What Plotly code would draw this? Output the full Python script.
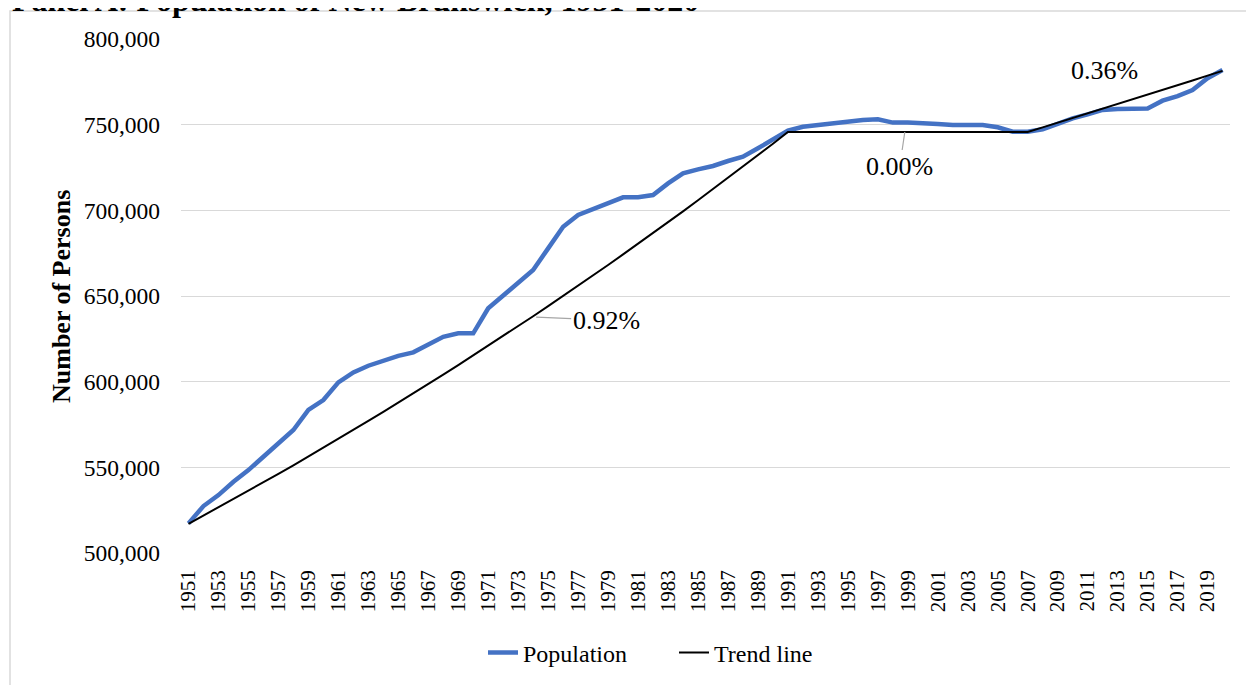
import plotly.graph_objects as go

years = list(range(1951, 2021))

population = [
    517300, 527400, 533800, 541600, 548400, 556200, 563400, 571800, 583500, 589300,
    599600, 605400, 609300, 612200, 615100, 617100, 621400, 626200, 628200, 628200,
    642800, 650000, 657400, 665200, 677800, 690400, 697300, 700800, 704500, 707600,
    707600, 708900, 715700, 721600, 723900, 725900, 728800, 731300, 736200, 741000,
    746500, 748800, 749800, 750800, 751600, 752700, 753100, 751200, 751200, 751000,
    750400, 749800, 749800, 749800, 748500, 745900, 745900, 747300, 750400, 753700,
    756000, 758600, 759100, 759100, 759500, 764000, 766700, 770200, 777100, 781900,
]

trend = [
    517000, 521800, 526600, 531400, 536300, 541200, 546200, 551200, 556300, 561400,
    566600, 571800, 577100, 582400, 587700, 593100, 598600, 604100, 609700, 615300,
    620900, 626600, 632400, 638200, 644100, 650000, 656000, 662000, 668100, 674300,
    680500, 686700, 693000, 699400, 705900, 712400, 718900, 725500, 732200, 738900,
    745700, 745700, 745700, 745700, 745700, 745700, 745700, 745700, 745700, 745700,
    745700, 745700, 745700, 745700, 745700, 745700, 745700, 748400, 751100, 753800,
    756500, 759200, 762000, 764700, 767400, 770200, 773000, 775800, 778600, 781400,
]

tick_years = years[::2]
tick_labels = [str(y) for y in tick_years]

FONT = "Liberation Serif"

fig = go.Figure()
fig.add_trace(go.Scatter(x=years, y=population, mode="lines", name="Population",
                         line=dict(color="#4472C4", width=4.5)))
fig.add_trace(go.Scatter(x=years, y=trend, mode="lines", name="Trend line",
                         line=dict(color="#000000", width=2)))

OFF = 8  # page body margin added by the browser
L, R, T, B = 181, 1230, 39, 553   # plot area in screen pixels
W, H = 1254, 685
pw, ph = R - L, B - T

def px(xp):
    return (xp - L) / pw

def py(yp):
    return (B - yp) / ph

fig.update_layout(
    width=W, height=H,
    margin=dict(l=L - OFF, r=W - R + OFF, t=T - OFF, b=H - B + OFF, autoexpand=False),
    paper_bgcolor="white", plot_bgcolor="white",
    font=dict(family=FONT, color="#000000"),
    showlegend=True,
    legend=dict(orientation="h", xref="container", yref="container",
                x=666 / W, xanchor="center", y=1 - 645 / H, yanchor="middle",
                font=dict(size=24, family=FONT), entrywidth=146, entrywidthmode="pixels",
                tracegroupgap=0, bgcolor="rgba(0,0,0,0)"),
    xaxis=dict(range=[1950.5, 2020.5], tickmode="array", tickvals=tick_years,
               ticktext=tick_labels, tickangle=-90, showgrid=False, showline=False,
               zeroline=False, tickfont=dict(size=21, family=FONT), ticks="",
               ticklabelstandoff=12, automargin=False),
    yaxis=dict(range=[500000, 800000], dtick=50000, tickformat=",", showgrid=True,
               gridcolor="#d9d9d9", gridwidth=1, showline=False, zeroline=False,
               tickfont=dict(size=23.5, family=FONT), ticks="", ticklabelstandoff=20,
               automargin=False),
)

# chart frame
fig.add_shape(type="rect", xref="paper", yref="paper",
              x0=px(10), x1=px(1251), y0=py(700), y1=py(11),
              line=dict(color="#d9d9d9", width=1.5), fillcolor="rgba(0,0,0,0)", layer="below")

# title (partly cut off at top)
fig.add_annotation(text="<b>Panel A: Population of New Brunswick, 1951-2020</b>",
                   xref="paper", yref="paper", x=px(10), y=py(20), xanchor="left",
                   yanchor="bottom", showarrow=False, font=dict(size=32, family=FONT))

# y axis title
fig.add_annotation(text="<b>Number of Persons</b>", xref="paper", yref="paper",
                   x=px(61), y=py(296), xanchor="center", yanchor="middle",
                   textangle=-90, showarrow=False, font=dict(size=26, family=FONT))

# rate labels
fig.add_annotation(text="0.92%", x=1974.2, y=637700, ax=70, ay=3,
                   showarrow=True, arrowhead=0, arrowwidth=1.2, arrowcolor="#a6a6a6",
                   font=dict(size=26, family=FONT))
fig.add_annotation(text="0.00%", x=1998.8, y=745700, ax=-5, ay=34,
                   showarrow=True, arrowhead=0, arrowwidth=1.2, arrowcolor="#a6a6a6",
                   font=dict(size=26, family=FONT))
fig.add_annotation(text="0.36%", x=2012.1, y=781900, showarrow=False,
                   font=dict(size=26, family=FONT))

fig.write_html("out.html")
